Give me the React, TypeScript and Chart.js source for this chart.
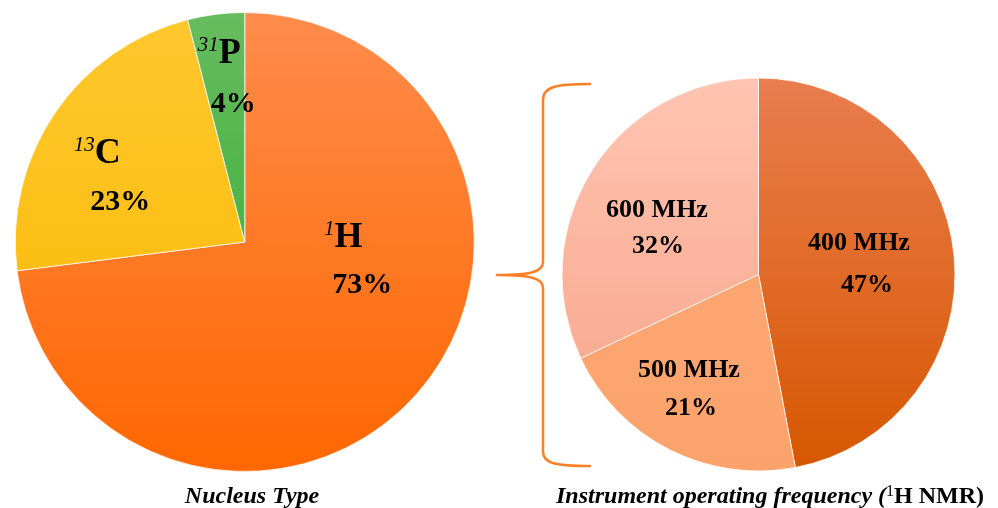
import React, { useEffect, useRef } from "react";
import { Chart, registerables } from "chart.js";

Chart.register(...registerables);

// ---------- data ----------
const nucleusCategories = ["1H", "13C", "31P"];
const nucleusIsotopes = ["1", "13", "31"];
const nucleusElements = ["H", "C", "P"];
const nucleusShares = [73, 23, 4];

const freqCategories = ["400 MHz", "500 MHz", "600 MHz"];
const freqShares = [47, 21, 32];

const nucleusTitle = "Nucleus Type";
const freqTitleItalic = "Instrument operating frequency (";
const freqTitleSup = "1";
const freqTitleRest = "H NMR)";

// ---------- styles ----------
const nucleusGradients: [string, string][] = [
  ["#FF8C4C", "#FF6700"],
  ["#FFC82E", "#F9B700"],
  ["#66BC5E", "#2DAA2A"],
];
const freqGradients: [string, string][] = [
  ["#E97D4E", "#D75700"],
  ["#FDA978", "#FCA36C"],
  ["#FFC5B2", "#F7A287"],
];

// label offsets relative to the pie centre: [nameDx, nameDy, pctDx, pctDy]
const nucleusLabelOffsets = [
  [98.5, 5, 117.5, 51],
  [-147.5, -79, -124.5, -32],
  [-25.5, -179, -11.5, -130],
];
const freqLabelOffsets = [
  [100.5, -24.5, 108.5, 17.5],
  [-69.5, 102.5, -67.5, 140.5],
  [-101.5, -57.5, -100.5, -21.5],
];

const SERIF = "'Liberation Serif', 'Times New Roman', serif";

type Seg = { text: string; font: string; dy: number };

function drawSegs(ctx: CanvasRenderingContext2D, segs: Seg[], cx: number, baseline: number) {
  let total = 0;
  for (const s of segs) {
    ctx.font = s.font;
    total += ctx.measureText(s.text).width;
  }
  let x = cx - total / 2;
  ctx.textAlign = "left";
  ctx.textBaseline = "alphabetic";
  for (const s of segs) {
    ctx.font = s.font;
    ctx.fillText(s.text, x, baseline + s.dy);
    x += ctx.measureText(s.text).width;
  }
}

function gradientColor(pairs: [string, string][]) {
  return (c: any) => {
    const chart = c.chart;
    const area = chart.chartArea;
    const pair = pairs[c.dataIndex % pairs.length];
    if (!area) return pair[0];
    const g = chart.ctx.createLinearGradient(0, area.top, 0, area.bottom);
    g.addColorStop(0, pair[0]);
    g.addColorStop(1, pair[1]);
    return g;
  };
}

const nucleusLabelPlugin = {
  id: "nucleusLabels",
  afterDatasetsDraw(chart: any) {
    const ctx = chart.ctx as CanvasRenderingContext2D;
    const arc = chart.getDatasetMeta(0).data[0];
    if (!arc) return;
    const cx = arc.x, cy = arc.y;
    ctx.save();
    ctx.fillStyle = "#000";
    nucleusShares.forEach((v, i) => {
      const o = nucleusLabelOffsets[i];
      drawSegs(ctx, [
        { text: nucleusIsotopes[i], font: `italic 21px ${SERIF}`, dy: -12 },
        { text: nucleusElements[i], font: `bold 36px ${SERIF}`, dy: 0 },
      ], cx + o[0], cy + o[1]);
      drawSegs(ctx, [{ text: `${v}%`, font: `bold 30px ${SERIF}`, dy: 0 }], cx + o[2], cy + o[3]);
    });
    // title
    drawSegs(ctx, [{ text: nucleusTitle, font: `bold italic 24px ${SERIF}`, dy: 0 }], 252, 503);
    ctx.restore();
  },
};

const freqLabelPlugin = {
  id: "freqLabels",
  afterDatasetsDraw(chart: any) {
    const ctx = chart.ctx as CanvasRenderingContext2D;
    const arc = chart.getDatasetMeta(0).data[0];
    if (!arc) return;
    const cx = arc.x, cy = arc.y;
    ctx.save();
    ctx.fillStyle = "#000";
    freqShares.forEach((v, i) => {
      const o = freqLabelOffsets[i];
      drawSegs(ctx, [{ text: freqCategories[i], font: `bold 26px ${SERIF}`, dy: 0 }], cx + o[0], cy + o[1]);
      drawSegs(ctx, [{ text: `${v}%`, font: `bold 26px ${SERIF}`, dy: 0 }], cx + o[2], cy + o[3]);
    });
    drawSegs(ctx, [
      { text: freqTitleItalic, font: `bold italic 24px ${SERIF}`, dy: 0 },
      { text: freqTitleSup, font: `16px ${SERIF}`, dy: -7 },
      { text: freqTitleRest, font: `bold 24px ${SERIF}`, dy: 0 },
    ], 770, 503);

    // brace
    ctx.strokeStyle = "#FF7F27";
    ctx.lineWidth = 2.5;
    ctx.lineCap = "round";
    ctx.beginPath();
    ctx.moveTo(590, 84);
    ctx.bezierCurveTo(558, 84, 543, 86, 543, 100);
    ctx.lineTo(543, 262);
    ctx.bezierCurveTo(543, 272, 530, 275, 497, 275);
    ctx.moveTo(497, 275);
    ctx.bezierCurveTo(530, 275, 543, 278, 543, 288);
    ctx.lineTo(543, 452);
    ctx.bezierCurveTo(543, 464, 558, 466, 590, 466);
    ctx.stroke();
    ctx.restore();
  },
};

function usePie(
  ref: React.RefObject<HTMLCanvasElement | null>,
  labels: string[],
  values: number[],
  grads: [string, string][],
  padding: { left: number; right: number; top: number; bottom: number },
  plugin: any
) {
  useEffect(() => {
    if (!ref.current) return;
    const chart = new Chart(ref.current, {
      type: "pie",
      data: {
        labels,
        datasets: [
          {
            data: values,
            backgroundColor: gradientColor(grads) as any,
            borderColor: "rgba(255,255,255,0.75)",
            borderWidth: 1,
          },
        ],
      },
      options: {
        responsive: false,
        animation: false,
        layout: { padding },
        plugins: { legend: { display: false }, tooltip: { enabled: false } },
        events: [],
      },
      plugins: [plugin],
    });
    return () => chart.destroy();
  }, []);
}

export default function App() {
  const leftRef = useRef<HTMLCanvasElement>(null);
  const rightRef = useRef<HTMLCanvasElement>(null);

  usePie(leftRef, nucleusCategories, nucleusShares, nucleusGradients,
    { left: 14.5, right: 523, top: 12, bottom: 36 }, nucleusLabelPlugin);
  usePie(rightRef, freqCategories, freqShares, freqGradients,
    { left: 561.5, right: 42.5, top: 77.5, bottom: 36.5 }, freqLabelPlugin);

  const cstyle: React.CSSProperties = { position: "absolute", left: 0, top: 0, width: 998, height: 508 };
  return (
    <div style={{ position: "absolute", left: 0, top: 0, width: 998, height: 508, background: "#fff", overflow: "hidden" }}>
      <canvas ref={leftRef} width={998} height={508} style={cstyle} />
      <canvas ref={rightRef} width={998} height={508} style={cstyle} />
    </div>
  );
}
